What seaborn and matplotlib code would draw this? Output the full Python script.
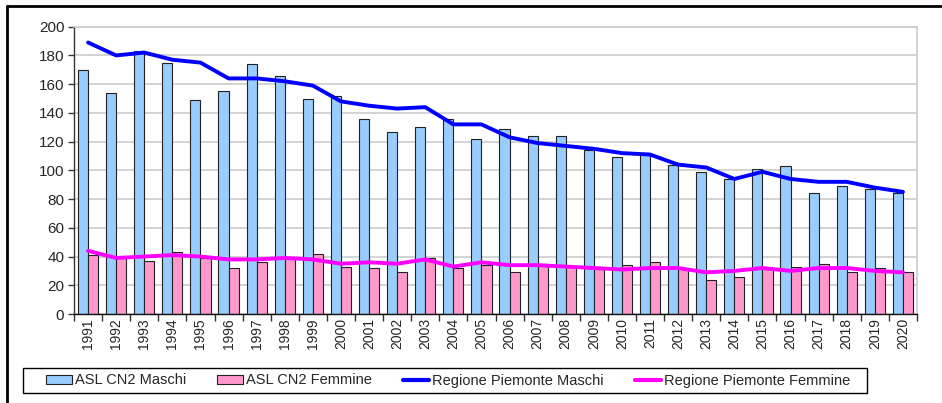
import numpy as np
import pandas as pd
import matplotlib
matplotlib.use('Agg')
import matplotlib.pyplot as plt
from matplotlib.lines import Line2D
from matplotlib.patches import Patch, Rectangle
import seaborn as sns

# Data
years = [str(y) for y in range(1991, 2021)]
asl_maschi = [170, 154, 183, 175, 149, 155, 174, 166, 150, 152,
              136, 127, 130, 136, 122, 129, 124, 124, 114, 109,
              112, 104, 99, 94, 101, 103, 84, 89, 87, 84]
asl_femmine = [41, 39, 37, 43, 39, 32, 36, 39, 42, 33,
               32, 29, 39, 32, 34, 29, 35, 33, 31, 34,
               36, 31, 24, 26, 31, 33, 35, 29, 32, 29]
piem_maschi = [189, 180, 182, 177, 175, 164, 164, 162, 159, 148,
               145, 143, 144, 132, 132, 123, 119, 117, 115, 112,
               111, 104, 102, 94, 99, 94, 92, 92, 88, 85]
piem_femmine = [44, 39, 40, 41, 40, 38, 38, 39, 38, 35,
                36, 35, 38, 33, 36, 34, 34, 33, 32, 31,
                32, 32, 29, 30, 32, 30, 32, 32, 30, 29]

labels = ['ASL CN2 Maschi', 'ASL CN2 Femmine',
          'Regione Piemonte Maschi', 'Regione Piemonte Femmine']
bar_colors = ['#99CCFF', '#FF99CC']
line_colors = ['#0000FF', '#FF00FF']

df = pd.DataFrame({
    'Anno': years * 2,
    'Valore': asl_maschi + asl_femmine,
    'Serie': [labels[0]] * len(years) + [labels[1]] * len(years),
})

sns.set_theme(style='white')
plt.rcParams['font.family'] = ['Liberation Sans', 'DejaVu Sans']

fig = plt.figure(figsize=(9.42, 4.03), dpi=100)
ax = fig.add_axes([74 / 942, 89 / 403, 843 / 942, 287.3 / 403])

sns.barplot(data=df, x='Anno', y='Valore', hue='Serie', palette=bar_colors,
            saturation=1, width=0.72, gap=0, edgecolor='#222222',
            linewidth=0.8, legend=False, ax=ax)

pos = np.arange(len(years))
sns.lineplot(x=pos, y=piem_maschi, color=line_colors[0], linewidth=2.8, ax=ax)
sns.lineplot(x=pos, y=piem_femmine, color=line_colors[1], linewidth=2.8, ax=ax)

ax.set_xlim(-0.5, len(years) - 0.5)
ax.set_ylim(0, 200)
ax.set_yticks(range(0, 201, 20))
ax.set_xticks(pos)
ax.set_xticklabels(years, rotation=90, fontsize=10)
ax.tick_params(axis='y', labelsize=11, length=4, width=1, color='#333333',
               left=True, pad=3)
ax.tick_params(axis='x', length=0, pad=3)
# ticks between categories on the x axis
ax.set_xticks(np.arange(-0.5, len(years), 1), minor=True)
ax.tick_params(axis='x', which='minor', length=5, width=1, color='#333333', bottom=True)
ax.set_xlabel('')
ax.set_ylabel('')

ax.grid(axis='y', color='#cccccc', linewidth=1.2)
ax.set_axisbelow(True)
for side in ['top', 'right']:
    ax.spines[side].set_color('#cccccc')
    ax.spines[side].set_linewidth(1.2)
ax.spines['left'].set_color('#333333')
ax.spines['bottom'].set_color('#111111')
ax.spines['left'].set_linewidth(1)
ax.spines['bottom'].set_linewidth(1)

# outer frame lines (top and left)
fig.add_artist(Line2D([7 / 942, 1], [1 - 6 / 403, 1 - 6 / 403], color='black',
                      linewidth=2, transform=fig.transFigure))
fig.add_artist(Line2D([7 / 942, 7 / 942], [0, 1 - 6 / 403], color='black',
                      linewidth=2, transform=fig.transFigure))

# legend box
fig.add_artist(Rectangle((23 / 942, 10 / 403), 844 / 942, 25 / 403,
                         facecolor='white', edgecolor='black', linewidth=1,
                         transform=fig.transFigure))
handles = [Patch(facecolor=bar_colors[0], edgecolor='#222222', linewidth=0.8),
           Patch(facecolor=bar_colors[1], edgecolor='#222222', linewidth=0.8),
           Line2D([], [], color=line_colors[0], linewidth=3),
           Line2D([], [], color=line_colors[1], linewidth=3)]
leg = fig.legend(handles, labels, loc='center left', ncol=4, mode='expand',
                 bbox_to_anchor=(46 / 942, 10 / 403, 804 / 942, 25 / 403),
                 fontsize=10.5, frameon=False, borderpad=0, borderaxespad=0,
                 handlelength=1.8, handletextpad=0.2, columnspacing=1.0,
                 handleheight=0.6)

fig.savefig('out.png', dpi=100)
